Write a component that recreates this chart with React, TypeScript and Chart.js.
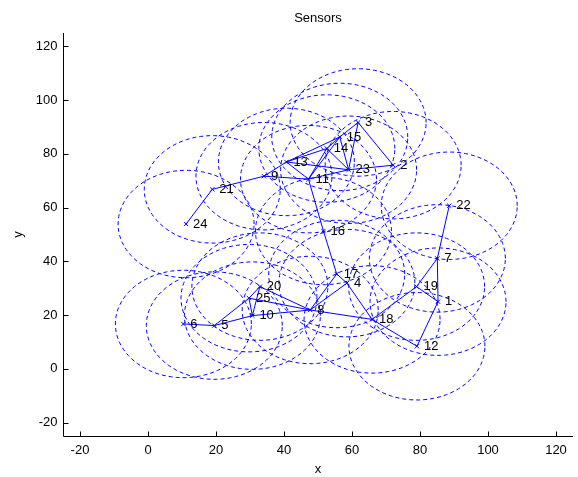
import React, { useEffect, useRef } from "react";
import { Chart, registerables } from "chart.js";

Chart.register(...registerables);

// Sensor identifiers and positions
const SENSOR_IDS = [1, 2, 3, 4, 5, 6, 7, 8, 9, 10, 11, 12, 13, 14, 15, 16, 17, 18, 19, 20, 21, 22, 23, 24, 25];
const SENSOR_X = [85.3, 72.1, 61.8, 58.5, 19.5, 10.4, 85.1, 47.7, 34.1, 30.7, 47.2, 79.1, 40.7, 52.6, 56.4, 51.6, 55.5, 65.9, 79.0, 32.9, 18.9, 88.6, 59.0, 11.2, 29.7];
const SENSOR_Y = [25.0, 75.8, 91.7, 31.9, 16.1, 16.7, 41.1, 21.9, 71.7, 19.8, 70.6, 8.4, 77.0, 82.0, 86.3, 51.3, 35.3, 18.4, 30.6, 30.6, 66.8, 60.7, 74.1, 53.9, 26.3];

// Sensing range drawn around every sensor
const SENSING_RADIUS = 20;

// Communication links between sensors (by id)
const LINK_FROM = [24, 21, 9, 13, 15, 9, 13, 13, 13, 11, 11, 11, 14, 14, 15, 3, 3, 23, 11, 16, 17, 17, 4, 4, 8, 8, 8, 8, 20, 20, 25, 25, 5, 5, 18, 18, 19, 19, 7, 7, 1];
const LINK_TO = [21, 9, 13, 15, 3, 11, 11, 14, 23, 14, 15, 23, 15, 23, 23, 23, 2, 2, 16, 17, 4, 8, 8, 18, 18, 20, 25, 10, 25, 10, 10, 5, 10, 6, 19, 12, 7, 1, 1, 22, 12];

// Axes
const X_MIN = -25;
const X_MAX = 125;
const Y_MIN = -25;
const Y_MAX = 125;
const X_TICKS = [-20, 0, 20, 40, 60, 80, 100, 120];
const Y_TICKS = [-20, 0, 20, 40, 60, 80, 100, 120];

const TITLE = "Sensors";
const X_LABEL = "x";
const Y_LABEL = "y";

const BLUE = "rgb(0,0,255)";
const FONT = '13px "Liberation Sans", Arial, Helvetica, sans-serif';

function circlePoints(cx: number, cy: number, r: number) {
  const pts: { x: number; y: number }[] = [];
  for (let a = 0; a <= 360; a += 4) {
    const t = (a * Math.PI) / 180;
    pts.push({ x: cx + r * Math.cos(t), y: cy + r * Math.sin(t) });
  }
  return pts;
}

const axesPlugin = {
  id: "plotAxes",
  afterDatasetsDraw(chart: any) {
    const { ctx, chartArea, scales } = chart;
    const xs = scales.x;
    const ys = scales.y;
    ctx.save();

    // sensor id labels
    ctx.fillStyle = "#000";
    ctx.font = FONT;
    ctx.textAlign = "left";
    ctx.textBaseline = "middle";
    SENSOR_IDS.forEach((id, i) => {
      const px = xs.getPixelForValue(SENSOR_X[i]);
      const py = ys.getPixelForValue(SENSOR_Y[i]);
      ctx.fillText(String(id), px + 7, py);
    });

    // axis lines
    const left = Math.round(chartArea.left) + 0.5;
    const bottom = Math.round(chartArea.bottom) + 0.5;
    ctx.strokeStyle = "#000";
    ctx.lineWidth = 1;
    ctx.beginPath();
    ctx.moveTo(left, Math.round(chartArea.top));
    ctx.lineTo(left, bottom);
    ctx.lineTo(Math.round(chartArea.right), bottom);
    ctx.stroke();

    // tick marks (inward)
    ctx.beginPath();
    X_TICKS.forEach((v) => {
      const px = Math.round(xs.getPixelForValue(v)) + 0.5;
      ctx.moveTo(px, bottom);
      ctx.lineTo(px, bottom - 5);
    });
    Y_TICKS.forEach((v) => {
      const py = Math.round(ys.getPixelForValue(v)) + 0.5;
      ctx.moveTo(left, py);
      ctx.lineTo(left + 5, py);
    });
    ctx.stroke();

    // tick labels
    ctx.textAlign = "center";
    ctx.textBaseline = "middle";
    X_TICKS.forEach((v) => {
      ctx.fillText(String(v), xs.getPixelForValue(v), bottom + 14);
    });
    ctx.textAlign = "right";
    Y_TICKS.forEach((v) => {
      ctx.fillText(String(v), left - 6, ys.getPixelForValue(v));
    });

    // title and axis labels
    const cx = (chartArea.left + chartArea.right) / 2;
    const cy = (chartArea.top + chartArea.bottom) / 2;
    ctx.textAlign = "center";
    ctx.fillText(TITLE, cx, 18);
    ctx.fillText(X_LABEL, cx, 469);
    ctx.translate(18, cy);
    ctx.rotate(-Math.PI / 2);
    ctx.fillText(Y_LABEL, 0, 0);
    ctx.restore();
  },
};

export default function App() {
  const canvasRef = useRef<HTMLCanvasElement | null>(null);

  useEffect(() => {
    const canvas = canvasRef.current;
    if (!canvas) return;

    const circleSets = SENSOR_IDS.map((id, i) => ({
      label: `range ${id}`,
      data: circlePoints(SENSOR_X[i], SENSOR_Y[i], SENSING_RADIUS),
      showLine: true,
      borderColor: BLUE,
      borderWidth: 1,
      borderDash: [4, 3],
      pointRadius: 0,
      tension: 0,
      fill: false,
    }));

    const linkSets = LINK_FROM.map((a, k) => {
      const b = LINK_TO[k];
      const ia = SENSOR_IDS.indexOf(a);
      const ib = SENSOR_IDS.indexOf(b);
      return {
        label: `link ${a}-${b}`,
        data: [
          { x: SENSOR_X[ia], y: SENSOR_Y[ia] },
          { x: SENSOR_X[ib], y: SENSOR_Y[ib] },
        ],
        showLine: true,
        borderColor: BLUE,
        borderWidth: 1,
        pointRadius: 0,
        fill: false,
      };
    });

    const nodeSet = {
      label: "sensors",
      data: SENSOR_IDS.map((_, i) => ({ x: SENSOR_X[i], y: SENSOR_Y[i] })),
      showLine: false,
      pointStyle: "crossRot",
      pointRadius: 3,
      borderColor: BLUE,
      backgroundColor: BLUE,
      borderWidth: 1,
    };

    const chart = new Chart(canvas, {
      type: "scatter",
      data: { datasets: [nodeSet, ...linkSets, ...circleSets] as any },
      options: {
        animation: false,
        responsive: false,
        events: [],
        layout: { padding: { left: 63, right: 3, top: 33, bottom: 41 } },
        scales: {
          x: { type: "linear", min: X_MIN, max: X_MAX, display: false },
          y: { type: "linear", min: Y_MIN, max: Y_MAX, display: false },
        },
        plugins: {
          legend: { display: false },
          tooltip: { enabled: false },
          title: { display: false },
        },
      },
      plugins: [axesPlugin],
    });

    return () => chart.destroy();
  }, []);

  return (
    <div style={{ position: "absolute", left: 0, top: 0, width: 578, height: 477, background: "#fff" }}>
      <canvas ref={canvasRef} width={578} height={477} style={{ display: "block" }} />
    </div>
  );
}
